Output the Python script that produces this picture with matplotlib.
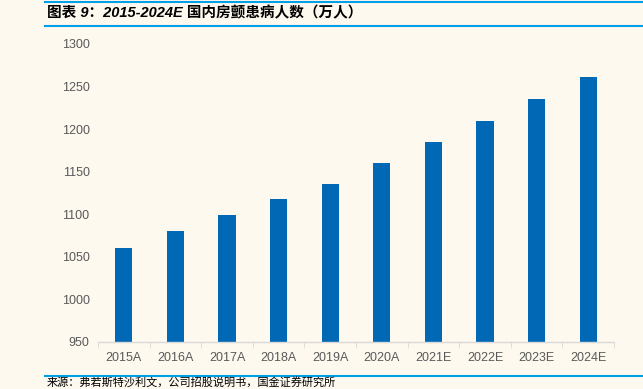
import matplotlib
matplotlib.use("Agg")
import matplotlib.pyplot as plt
from matplotlib.lines import Line2D

plt.rcParams["font.family"] = ["Liberation Sans", "Noto Sans CJK SC", "DejaVu Sans"]

years = ["2015A", "2016A", "2017A", "2018A", "2019A",
         "2020A", "2021E", "2022E", "2023E", "2024E"]
patients = [1060, 1080, 1099, 1118, 1136, 1160, 1185, 1210, 1235, 1261]
yticks = [950, 1000, 1050, 1100, 1150, 1200, 1250, 1300]

title = "图表 9：2015-2024E 国内房颤患病人数（万人）"
source = "来源：弗若斯特沙利文，公司招股说明书，国金证券研究所"

bg = "#fef9ef"
bar_color = "#0068b4"
line_blue = "#00a0e9"
grey = "#595959"

fig = plt.figure(figsize=(6.43, 3.89), dpi=100, facecolor=bg)
ax = fig.add_axes([98 / 643, 47 / 389, 516 / 643, 298 / 389], facecolor=bg)

x = list(range(len(years)))
ax.bar(x, patients, width=0.33, color=bar_color, zorder=2)
ax.set_xlim(-0.5, len(years) - 0.5)
ax.set_ylim(950, 1300)
ax.set_yticks(yticks)
ax.set_xticks(x)
ax.set_xticklabels(years)
ax.tick_params(axis="y", length=0, pad=6, labelsize=9, labelcolor=grey)
ax.tick_params(axis="x", length=0, pad=7, labelsize=9, labelcolor=grey)
for s in ["top", "right", "left"]:
    ax.spines[s].set_visible(False)
ax.spines["bottom"].set_color("#d9d9d9")
ax.spines["bottom"].set_linewidth(1)
# разделители категорий на оси x
ax.set_xticks([b - 0.5 for b in range(len(years) + 1)], minor=True)
ax.tick_params(axis="x", which="minor", length=4, color="#d9d9d9", direction="out")

# шапка и подвал в стиле отчёта
fig.add_artist(Line2D([45 / 643, 1], [1 - 1.5 / 389] * 2, color=line_blue, lw=1.5))
fig.add_artist(Line2D([45 / 643, 1], [1 - 26 / 389] * 2, color=line_blue, lw=1.5))
fig.add_artist(Line2D([45 / 643, 1], [1 - 376 / 389] * 2, color=line_blue, lw=1.5))
fig.text(47 / 643, 1 - 13 / 389, title, fontsize=10.5, fontweight="bold",
         fontstyle="italic", color="black", va="center", ha="left")
fig.text(47 / 643, 1 - 383 / 389, source, fontsize=8, color="black",
         va="center", ha="left")

fig.savefig("out.png", dpi=100, facecolor=bg)
